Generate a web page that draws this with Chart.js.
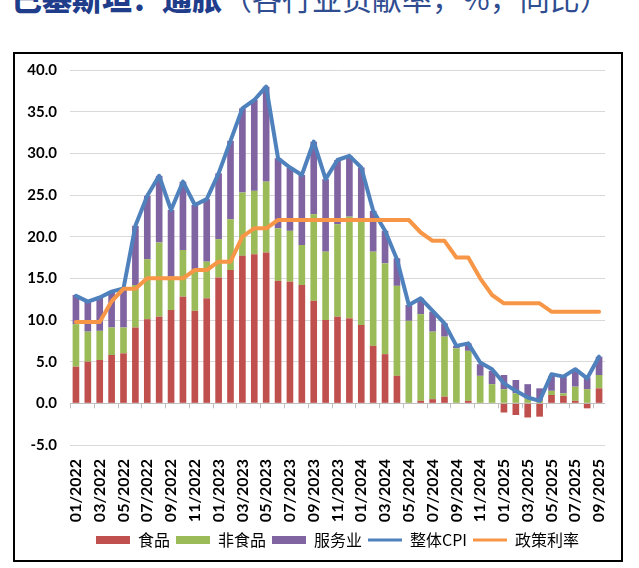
<!DOCTYPE html>
<html><head><meta charset="utf-8">
<script src="https://cdn.jsdelivr.net/npm/chart.js@4.4.1/dist/chart.umd.min.js"></script>
<style>
html,body{margin:0;padding:0;background:#fff;width:639px;height:568px;overflow:hidden;position:relative;}
#title{position:absolute;left:12px;top:-18px;font-family:"Noto Sans CJK SC";font-size:30px;white-space:nowrap;line-height:1;}
#title b{color:#1f3d8a;font-weight:900;}
#title span{color:#2f4d90;font-weight:400;}
#box{position:absolute;left:13px;top:52px;width:606px;height:506px;border:2px solid #000;}
#wrap{position:absolute;left:0;top:0;width:639px;height:568px;}
</style></head><body>
<div id="title"><b>巴基斯坦：通胀</b><span>（各行业贡献率，%，同比）</span></div>
<div id="box"></div>
<div id="wrap"><canvas id="c" width="639" height="568"></canvas></div>
<script>
const categories = ["01/2022","02/2022","03/2022","04/2022","05/2022","06/2022","07/2022","08/2022","09/2022","10/2022","11/2022","12/2022",
"01/2023","02/2023","03/2023","04/2023","05/2023","06/2023","07/2023","08/2023","09/2023","10/2023","11/2023","12/2023",
"01/2024","02/2024","03/2024","04/2024","05/2024","06/2024","07/2024","08/2024","09/2024","10/2024","11/2024","12/2024",
"01/2025","02/2025","03/2025","04/2025","05/2025","06/2025","07/2025","08/2025","09/2025"];
const food = [4.4,5.0,5.2,5.8,6.0, 9.1,10.1,10.4,11.2,12.8, 11.1,12.6,15.1,16.0,17.7, 17.9,18.1,14.7,14.6,14.2, 12.3,10.0,10.4,10.2,9.4, 6.9,5.9,3.3,0.0,0.3, 0.5,0.8,0.0,0.3,0.0, 0.0,-1.1,-1.4,-1.7,-1.6, 1.0,0.9,0.3,-0.6,1.8];
const nonFood = [5.1,3.6,3.5,3.3,3.1, 5.1,7.2,8.9,4.0,5.6, 4.9,4.4,4.6,6.1,7.6, 7.6,8.5,6.3,6.1,4.8, 10.4,8.2,11.1,12.2,12.5, 11.3,10.9,10.8,9.9,10.4, 8.1,7.2,6.6,6.0,3.3, 2.3,1.7,1.2,0.6,0.3, 0.5,0.3,1.7,1.7,1.6];
const services = [3.5,3.6,4.0,4.3,4.7, 7.1,7.6,8.0,8.0,8.2, 7.8,7.5,7.9,9.4,10.1, 10.9,11.4,8.4,7.6,8.4, 8.7,8.7,7.7,7.3,6.4, 4.9,3.9,3.3,1.9,1.9, 2.4,1.6,0.3,0.9,1.4, 1.6,1.7,1.6,1.7,1.5, 1.8,2.1,2.0,1.4,2.2];
const cpi = [12.9,12.2,12.7,13.4,13.8, 21.3,24.9,27.3,23.2,26.6, 23.8,24.5,27.6,31.5,35.4, 36.4,38.0,29.4,28.3,27.4, 31.4,26.9,29.2,29.7,28.3, 23.1,20.7,17.3,11.8,12.6, 11.1,9.6,6.9,7.2,4.9, 4.1,2.4,1.5,0.7,0.3, 3.5,3.2,4.1,3.0,5.6];
const policyRate = [9.75,9.75,9.75,12.25,13.75, 13.75,15,15,15,15, 16,16,17,17,20, 21,21,22,22,22, 22,22,22,22,22, 22,22,22,22,20.5, 19.5,19.5,17.5,17.5,15, 13,12,12,12,12, 11,11,11,11,11];
const seriesNames = ["食品","非食品","服务业","整体CPI","政策利率"];
const yTicks = {min:-5, max:40, step:5};

const yFont = {family:"Lato", weight:"bold", size:15};
const xFont = {family:"Lato", weight:"bold", size:16};

const zeroTicks = {
  id:'zeroTicks',
  beforeDatasetsDraw(chart){
    const xs = chart.scales.x, ys = chart.scales.y, ctx = chart.ctx;
    const y0 = ys.getPixelForValue(0);
    const half = (xs.getPixelForValue(1) - xs.getPixelForValue(0)) / 2;
    ctx.save();
    ctx.strokeStyle = '#bfbfbf'; ctx.lineWidth = 1;
    for (let i = 0; i < categories.length; i += 2) {
      const px = Math.round(xs.getPixelForValue(i) - half) + 0.5;
      ctx.beginPath(); ctx.moveTo(px, y0); ctx.lineTo(px, y0 + 5); ctx.stroke();
    }
    ctx.restore();
  }
};

new Chart(document.getElementById('c'), {
  data: {
    labels: categories,
    datasets: [
      {type:'bar', label:seriesNames[0], data:food, backgroundColor:'#C0504D', stack:'s', order:2},
      {type:'bar', label:seriesNames[1], data:nonFood, backgroundColor:'#9BBB59', stack:'s', order:2},
      {type:'bar', label:seriesNames[2], data:services, backgroundColor:'#8064A2', stack:'s', order:2},
      {type:'line', label:seriesNames[3], data:cpi, borderColor:'#4F81BD', backgroundColor:'#4F81BD', borderWidth:4, pointRadius:0, tension:0, fill:false, stack:'cpi', order:1, borderJoinStyle:'round', borderCapStyle:'round'},
      {type:'line', label:seriesNames[4], data:policyRate, borderColor:'#F79646', backgroundColor:'#F79646', borderWidth:4, pointRadius:0, tension:0, fill:false, stack:'rate', order:0, borderJoinStyle:'round', borderCapStyle:'round'}
    ]
  },
  options: {
    responsive:false, animation:false, devicePixelRatio:1,
    datasets:{bar:{barPercentage:1, categoryPercentage:0.56}},
    layout:{padding:{left:0, right:34, top:70, bottom:10}},
    plugins:{
      tooltip:{enabled:false},
      legend:{
        position:'bottom', fullSize:false,
        labels:{
          usePointStyle:true, pointStyleWidth:34, boxHeight:8, padding:6,
          color:'#000', font:{family:"Noto Sans CJK SC", size:16},
          sort:(a,b)=>a.datasetIndex-b.datasetIndex,
          generateLabels(chart){
            const items = Chart.defaults.plugins.legend.labels.generateLabels(chart);
            items.forEach(it=>{
              const ds = chart.data.datasets[it.datasetIndex];
              if (ds.type === 'line') { it.pointStyle='line'; it.lineWidth=3; it.strokeStyle=ds.borderColor; it.fillStyle=ds.borderColor; }
              else { it.pointStyle='rect'; it.lineWidth=0; it.fillStyle=ds.backgroundColor; it.strokeStyle=ds.backgroundColor; }
            });
            return items;
          }
        }
      }
    },
    scales:{
      x:{
        stacked:true, offset:true,
        afterFit:(s)=>{ s.height = 81; },
        grid:{display:false}, border:{display:false},
        ticks:{autoSkip:false, minRotation:90, maxRotation:90, padding:6, color:'#000', font:xFont,
          callback:(v,i)=> i % 2 === 0 ? categories[i] : ''}
      },
      y:{
        stacked:true, min:yTicks.min, max:yTicks.max,
        afterFit:(s)=>{ s.width = 70; },
        border:{display:false},
        grid:{drawTicks:false, color:(c)=> c.tick && c.tick.value === 0 ? '#bfbfbf' : '#d9d9d9'},
        ticks:{stepSize:yTicks.step, padding:13, color:'#000', font:yFont, callback:(v)=>Number(v).toFixed(1)}
      }
    }
  },
  plugins:[zeroTicks]
});
</script>
</body></html>
